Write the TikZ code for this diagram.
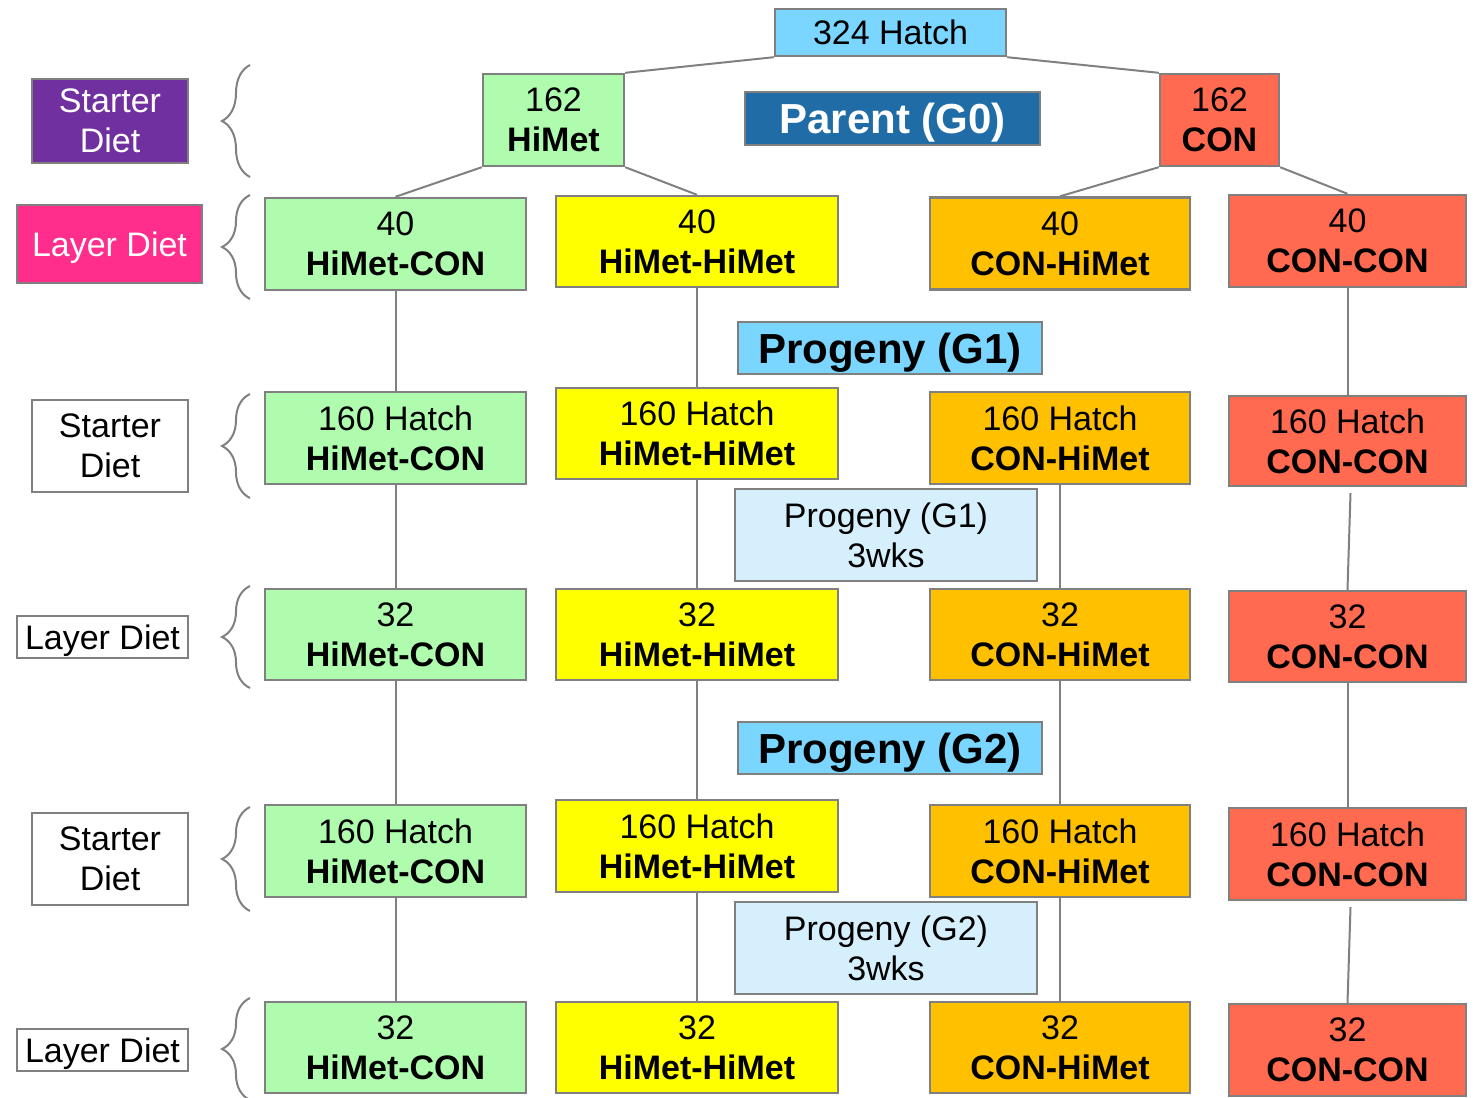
\documentclass[tikz,border=0pt]{standalone}
\usepackage{fontspec}
\setmainfont{Liberation Sans}
\usetikzlibrary{decorations.pathreplacing}
\definecolor{linegray}{RGB}{128,128,128}
\definecolor{hatchblue}{RGB}{122,214,255}
\definecolor{parentblue}{RGB}{31,108,166}
\definecolor{paleblue}{RGB}{213,240,252}
\definecolor{starterpurple}{RGB}{112,48,160}
\definecolor{layerpink}{RGB}{255,45,140}
\definecolor{hcgreen}{RGB}{175,252,175}
\definecolor{hhyellow}{RGB}{255,255,0}
\definecolor{chorange}{RGB}{255,192,0}
\definecolor{ccred}{RGB}{255,106,80}
\tikzset{
  wh/.style n args={2}{minimum width=#1*0.5pt,minimum height=#2*0.5pt},
  box/.style={draw=linegray,line width=1.2pt,align=center,inner sep=0pt,
    text depth=0pt,font=\fontsize{17}{20}\selectfont},
  head/.style={box,font=\fontsize{21}{24}\selectfont\bfseries},
  colhc/.style={box,fill=hcgreen,wh={261}{92}},
  colhh/.style={box,fill=hhyellow,wh={282}{91}},
  colch/.style={box,fill=chorange,wh={260}{92}},
  colcc/.style={box,fill=ccred,wh={237}{92}},
  conn/.style={draw=linegray,line width=1pt},
  brc/.style={draw=linegray,line width=1pt,decorate,decoration={brace,amplitude=14pt}}
}

\begin{document}
\begin{tikzpicture}[x=0.5pt,y=-0.5pt]
  \useasboundingbox (0,0) rectangle (1479,1098);
  % Parents (G0)
  \node (hatch) [box,fill=hatchblue,wh={231}{47}] at (890.5,32.5) {324 Hatch};
  \node (parent) [head,fill=parentblue,text=white,wh={295}{53}] at (892.5,118.5) {Parent (G0)};
  \node (himet) [box,fill=hcgreen,wh={141}{92}] at (553.5,120) {162\\\textbf{HiMet}};
  \node (con) [box,fill=ccred,wh={119}{92}] at (1219.5,120) {162\\\textbf{CON}};
  % Layer diet, 40 each
  \node (hc1) [colhc] at (395.5,244) {40\\\textbf{HiMet-CON}};
  \node (hh1) [colhh] at (697,241.5) {40\\\textbf{HiMet-HiMet}};
  \node (ch1) [colch] at (1060,243.5) {40\\\textbf{CON-HiMet}};
  \node (cc1) [colcc] at (1347.5,241) {40\\\textbf{CON-CON}};
  % Progeny (G1)
  \node (gone) [head,fill=hatchblue,wh={304}{52}] at (890,348) {Progeny (G1)};
  \node (hc2) [colhc] at (395.5,438) {160 Hatch\\\textbf{HiMet-CON}};
  \node (hh2) [colhh] at (697,433.5) {160 Hatch\\\textbf{HiMet-HiMet}};
  \node (ch2) [colch] at (1060,438) {160 Hatch\\\textbf{CON-HiMet}};
  \node (cc2) [colcc,wh={237}{90}] at (1347.5,441) {160 Hatch\\\textbf{CON-CON}};
  \node (wone) [box,fill=paleblue,wh={302}{92}] at (886,535) {Progeny (G1)\\3wks};
  \node (hc3) [colhc,wh={261}{91}] at (395.5,634.5) {32\\\textbf{HiMet-CON}};
  \node (hh3) [colhh] at (697,634.5) {32\\\textbf{HiMet-HiMet}};
  \node (ch3) [colch,wh={260}{91}] at (1060,634.5) {32\\\textbf{CON-HiMet}};
  \node (cc3) [colcc,wh={237}{91}] at (1347.5,636.5) {32\\\textbf{CON-CON}};
  % Progeny (G2)
  \node (gtwo) [head,fill=hatchblue,wh={304}{52}] at (890,748) {Progeny (G2)};
  \node (hc4) [colhc] at (395.5,851) {160 Hatch\\\textbf{HiMet-CON}};
  \node (hh4) [colhh,wh={282}{92}] at (697,846) {160 Hatch\\\textbf{HiMet-HiMet}};
  \node (ch4) [colch] at (1060,851) {160 Hatch\\\textbf{CON-HiMet}};
  \node (cc4) [colcc] at (1347.5,854) {160 Hatch\\\textbf{CON-CON}};
  \node (wtwo) [box,fill=paleblue,wh={302}{92}] at (886,948) {Progeny (G2)\\3wks};
  \node (hc5) [colhc,wh={261}{91}] at (395.5,1047.5) {32\\\textbf{HiMet-CON}};
  \node (hh5) [colhh] at (697,1047.5) {32\\\textbf{HiMet-HiMet}};
  \node (ch5) [colch,wh={260}{91}] at (1060,1047.5) {32\\\textbf{CON-HiMet}};
  \node (cc5) [colcc] at (1347.5,1050) {32\\\textbf{CON-CON}};
  % Diet labels
  \node (start0) [box,fill=starterpurple,text=white,wh={156}{84}] at (110,121) {Starter\\Diet};
  \node (layer0) [box,fill=layerpink,text=white,wh={185}{78}] at (109.5,244) {Layer Diet};
  \node (start1) [box,fill=white,wh={156}{92}] at (110,446) {Starter\\Diet};
  \node (layer1) [box,fill=white,wh={171}{42}] at (102.5,637) {Layer Diet};
  \node (start2) [box,fill=white,wh={156}{92}] at (110,859) {Starter\\Diet};
  \node (layer2) [box,fill=white,wh={171}{42}] at (102.5,1050) {Layer Diet};
  % braces
  \draw[brc] (250,177) -- (250,65);
  \draw[brc] (250,299) -- (250,195);
  \draw[brc] (250,498) -- (250,394);
  \draw[brc] (250,688) -- (250,586);
  \draw[brc] (250,911) -- (250,807);
  \draw[brc] (250,1100) -- (250,998);
  % lines
  \draw[conn] (hatch.south west) -- (himet.north east);
  \draw[conn] (hatch.south east) -- (con.north west);
  \draw[conn] (himet.south west) -- (hc1.north);
  \draw[conn] (himet.south east) -- (hh1.north);
  \draw[conn] (con.south west) -- (ch1.north);
  \draw[conn] (con.south east) -- (cc1.north);
  \draw[conn] (hc1) -- (hc2);
  \draw[conn] (hc2) -- (hc3);
  \draw[conn] (hc3) -- (hc4);
  \draw[conn] (hc4) -- (hc5);
  \draw[conn] (hh1) -- (hh2);
  \draw[conn] (hh2) -- (hh3);
  \draw[conn] (hh3) -- (hh4);
  \draw[conn] (hh4) -- (hh5);
  \draw[conn] (ch2) -- (ch3);
  \draw[conn] (ch3) -- (ch4);
  \draw[conn] (ch4) -- (ch5);
  \draw[conn] (cc1) -- (cc2);
  \draw[conn] ([xshift=1.5pt,yshift=-3pt]cc2.south) -- (cc3.north);
  \draw[conn] (cc3) -- (cc4);
  \draw[conn] ([xshift=1.5pt,yshift=-3pt]cc4.south) -- (cc5.north);
\end{tikzpicture}
\end{document}
